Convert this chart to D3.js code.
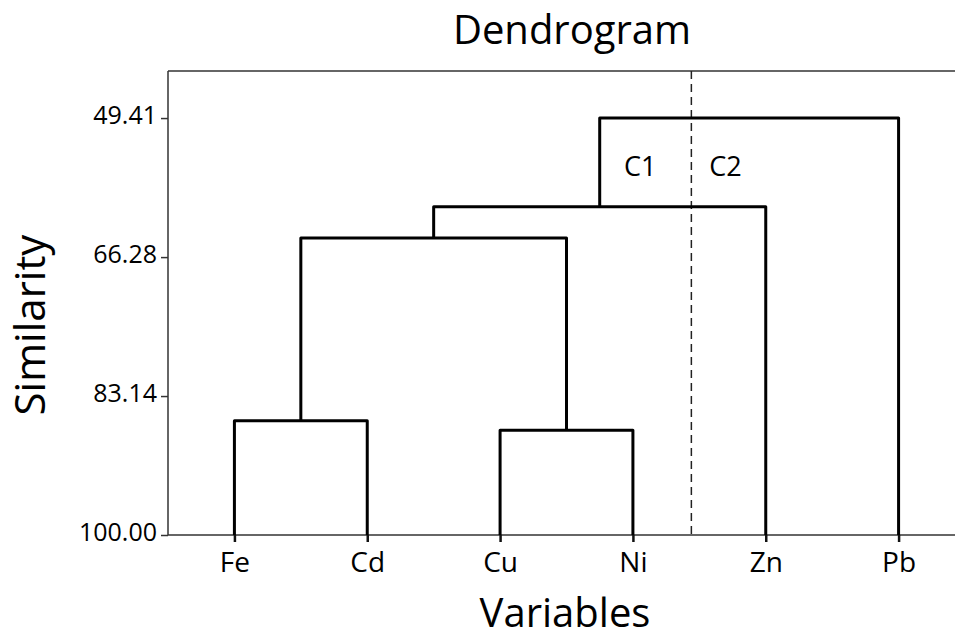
<!DOCTYPE html>
<html>
<head>
<meta charset="utf-8">
<script src="https://cdn.jsdelivr.net/npm/d3@7"></script>
<style>
  html, body { margin: 0; padding: 0; background: #fff; }
  svg { display: block; font-family: "Open Sans", "DejaVu Sans", sans-serif; }
</style>
</head>
<body>
<svg id="chart" width="955" height="642"></svg>
<script>
// Leaves of the tree, left to right
const leaves = ["Fe", "Cd", "Cu", "Ni", "Zn", "Pb"];

// Agglomeration steps: node ids 0-5 are leaves, each merge creates node 6, 7, ...
const mergeA = [0, 2, 6, 8, 9];
const mergeB = [1, 3, 7, 4, 5];
const mergeLevel = [86.14, 87.30, 63.97, 60.16, 49.41];

// Similarity axis ticks
const yTicks = [49.41, 66.28, 83.14, 100.00];

// Cluster cut labels
const clusterLabels = ["C1", "C2"];

const FONT = "'Open Sans', 'DejaVu Sans', sans-serif";
const svg = d3.select("#chart");
const margin = { left: 168, top: 71, bottom: 535, right: 965 };

const x = d3.scalePoint()
  .domain(leaves)
  .range([margin.left, margin.right])
  .padding(0.5);

const y = d3.scaleLinear()
  .domain([100, 43.7])
  .range([margin.bottom, margin.top]);

// Node positions and heights
const nodeX = leaves.map(d => x(d));
const nodeY = leaves.map(() => 100);
mergeA.forEach((a, i) => {
  const b = mergeB[i];
  nodeX.push((nodeX[a] + nodeX[b]) / 2);
  nodeY.push(mergeLevel[i]);
});

// Frame: top edge
svg.append("line")
  .attr("x1", margin.left).attr("x2", margin.right)
  .attr("y1", margin.top).attr("y2", margin.top)
  .attr("stroke", "#333").attr("stroke-width", 1.5);

// Y axis
const yAxis = svg.append("g")
  .attr("transform", `translate(${margin.left},0)`)
  .call(d3.axisLeft(y).tickValues(yTicks).tickFormat(d3.format(".2f")).tickSize(7).tickPadding(4))
  .attr("font-family", FONT);
yAxis.select(".domain").attr("d", `M0,${margin.top}V${margin.bottom}`)
  .attr("stroke", "#333").attr("stroke-width", 1.5);
yAxis.selectAll(".tick line").attr("stroke", "#333").attr("stroke-width", 1.5);
yAxis.selectAll(".tick text").attr("fill", "#000").style("font-size", "25px").attr("dy", "0.2em");

// X axis
const xAxis = svg.append("g")
  .attr("transform", `translate(0,${margin.bottom})`)
  .call(d3.axisBottom(x).tickSize(7).tickPadding(10))
  .attr("font-family", FONT);
xAxis.select(".domain").attr("d", `M${margin.left},0H${margin.right}`)
  .attr("stroke", "#333").attr("stroke-width", 1.5);
xAxis.selectAll(".tick line").attr("stroke", "#111").attr("stroke-width", 2.5);
xAxis.selectAll(".tick text").attr("fill", "#000").style("font-size", "28px");

// Cut line between the two clusters
const cutX = x("Ni") + 0.44 * x.step();
svg.append("line")
  .attr("x1", cutX).attr("x2", cutX)
  .attr("y1", margin.top).attr("y2", margin.bottom)
  .attr("stroke", "#222").attr("stroke-width", 1.5)
  .attr("stroke-dasharray", "8,5");

// Dendrogram links
const links = svg.append("g")
  .attr("fill", "none")
  .attr("stroke", "#000")
  .attr("stroke-width", 3)
  .attr("stroke-linejoin", "round");
mergeA.forEach((a, i) => {
  const b = mergeB[i];
  const yy = y(mergeLevel[i]);
  links.append("path")
    .attr("d", `M${nodeX[a]},${y(nodeY[a])}V${yy}H${nodeX[b]}V${y(nodeY[b])}`);
});

// Cluster labels
svg.append("text")
  .attr("x", cutX - 35).attr("y", y(56.5))
  .attr("text-anchor", "end")
  .style("font-size", "27px")
  .text(clusterLabels[0]);
svg.append("text")
  .attr("x", cutX + 18).attr("y", y(56.5))
  .attr("text-anchor", "start")
  .style("font-size", "27px")
  .text(clusterLabels[1]);

// Titles
svg.append("text")
  .attr("x", 572).attr("y", 44)
  .attr("text-anchor", "middle")
  .style("font-size", "40px")
  .text("Dendrogram");

svg.append("text")
  .attr("x", 565).attr("y", 627)
  .attr("text-anchor", "middle")
  .style("font-size", "40px")
  .text("Variables");

svg.append("text")
  .attr("transform", "translate(45,325) rotate(-90)")
  .attr("text-anchor", "middle")
  .style("font-size", "42px")
  .text("Similarity");
</script>
</body>
</html>
